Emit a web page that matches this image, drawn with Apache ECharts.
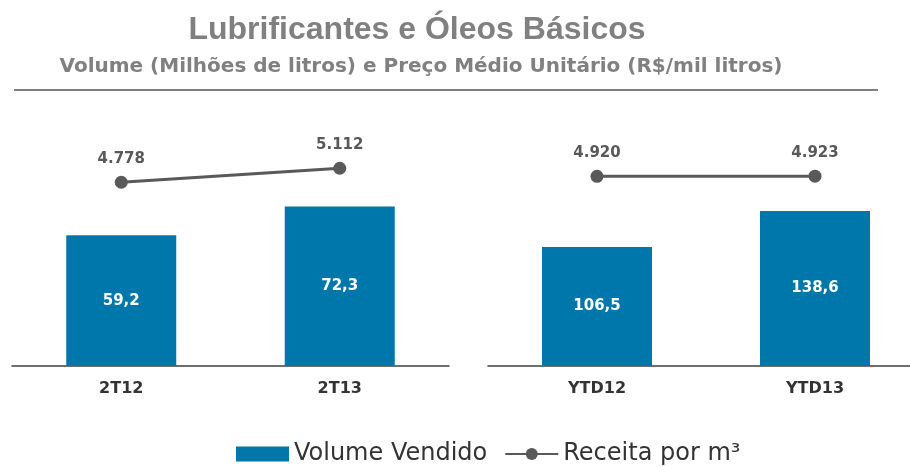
<!DOCTYPE html>
<html>
<head>
<meta charset="utf-8">
<script src="https://cdn.jsdelivr.net/npm/echarts@6/dist/echarts.min.js"></script>
<style>
  html, body { margin: 0; padding: 0; background: #fff; }
  #chart { width: 910px; height: 467px; }
</style>
</head>
<body>
<div id="chart"></div>
<script>
// dados
const quarterCats = ['2T12', '2T13']
const ytdCats = ['YTD12', 'YTD13']
const quarterVolume = [59.2, 72.3]
const ytdVolume = [106.5, 138.6]
const quarterPrice = [4778, 5112]
const ytdPrice = [4920, 4923]

const blue = '#0077AA'
const grey = '#595959'
const titleFont = 'Liberation Sans, Arial, sans-serif'
const font = 'DejaVu Sans, sans-serif'

// formata 4778 -> 4.778 e 59.2 -> 59,2
function fmtPrice(v) {
  return String(v).replace(/\B(?=(\d{3})+(?!\d))/g, '.')
}
function fmtVolume(v) {
  return v.toFixed(1).replace('.', ',')
}

function xAxisFor(idx, cats) {
  return {
    type: 'category',
    gridIndex: idx,
    data: cats,
    axisTick: { show: false },
    axisLine: { lineStyle: { color: '#404040', width: 1.5 } },
    axisLabel: {
      color: '#333',
      fontWeight: 'bold',
      fontSize: 16,
      fontFamily: font,
      margin: 15,
    },
  }
}

function barSeries(idx, data) {
  return {
    name: 'Volume Vendido',
    type: 'bar',
    xAxisIndex: idx,
    yAxisIndex: idx * 2,
    barWidth: 110,
    data,
    itemStyle: { color: blue },
    label: {
      show: true,
      position: 'inside',
      color: '#fff',
      fontWeight: 'bold',
      fontSize: 15,
      fontFamily: font,
      formatter: p => fmtVolume(p.value),
    },
  }
}

function lineSeries(idx, data) {
  return {
    name: 'Receita por m³',
    type: 'line',
    xAxisIndex: idx,
    yAxisIndex: idx * 2 + 1,
    data,
    symbol: 'circle',
    symbolSize: 13,
    lineStyle: { color: grey, width: 3 },
    itemStyle: { color: grey },
    label: {
      show: true,
      position: 'top',
      distance: 9,
      color: grey,
      fontWeight: 'bold',
      fontSize: 15,
      fontFamily: font,
      formatter: p => fmtPrice(p.value),
    },
  }
}

const hiddenY = (idx, min, max) => ({
  type: 'value',
  gridIndex: idx,
  min,
  max,
  show: false,
  splitLine: { show: false },
})

const chart = echarts.init(document.getElementById('chart'))
chart.setOption({
  animation: false,
  backgroundColor: '#fff',
  title: [
    {
      text: 'Lubrificantes e Óleos Básicos',
      left: 412,
      top: 9,
      textAlign: 'center',
      textStyle: { color: '#808080', fontSize: 32, fontWeight: 'bold', fontFamily: titleFont },
    },
    {
      text: 'Volume (Milhões de litros) e Preço Médio Unitário (R$/mil litros)',
      left: 416,
      top: 52,
      textAlign: 'center',
      textStyle: { color: '#808080', fontSize: 20, fontWeight: 'bold', fontFamily: font },
    },
  ],
  graphic: [
    {
      type: 'line',
      shape: { x1: 14, y1: 90, x2: 878, y2: 90 },
      style: { stroke: '#808080', lineWidth: 2 },
    },
  ],
  legend: {
    top: 437,
    left: 231,
    itemWidth: 53,
    itemHeight: 15,
    itemGap: 17,
    data: [
      { name: 'Volume Vendido', icon: 'rect' },
      { name: 'Receita por m³' },
    ],
    textStyle: { color: '#333', fontSize: 24, fontFamily: font },
  },
  grid: [
    { left: 12, width: 437, top: 110, bottom: 101, outerBoundsMode: 'none', containLabel: false },
    { left: 488, width: 436, top: 110, bottom: 101, outerBoundsMode: 'none', containLabel: false },
  ],
  xAxis: [xAxisFor(0, quarterCats), xAxisFor(1, ytdCats)],
  yAxis: [
    hiddenY(0, 0, 116),
    hiddenY(0, 400, 6500),
    hiddenY(1, 0, 229),
    hiddenY(1, 400, 6500),
  ],
  series: [
    barSeries(0, quarterVolume),
    lineSeries(0, quarterPrice),
    barSeries(1, ytdVolume),
    lineSeries(1, ytdPrice),
  ],
})
</script>
</body>
</html>
